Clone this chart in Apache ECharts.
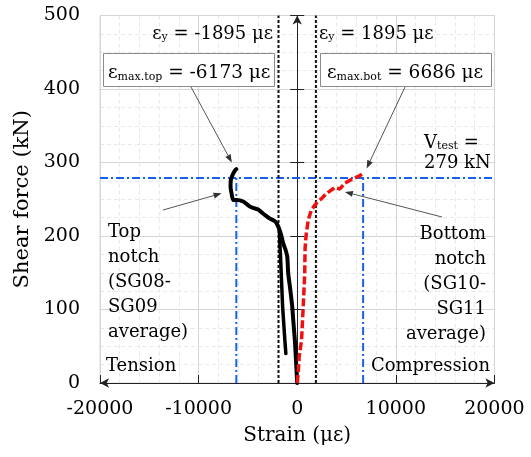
<!DOCTYPE html>
<html><head><meta charset="utf-8">
<script src="https://cdn.jsdelivr.net/npm/echarts@6/dist/echarts.min.js"></script>
<style>html,body{margin:0;padding:0;background:#fff}#c{width:531px;height:457px}</style>
</head><body><div id="c"></div>
<script>
// ---- data (strain in με, shear force in kN) ----
const topNotchStrain = [0, -120, -235, -370, -505, -700, -910, -1010, -1200, -1420, -1600, -1755, -2000, -2260, -2800, -3110, -3500, -3960, -4400, -4800, -5480, -6150, -6490, -6660, -6760, -6730, -6560, -6320, -6173];
const topNotchForce  = [0, 30, 58, 80, 104, 127, 149, 172, 182, 190, 200, 207, 215, 220, 224, 227, 231, 236, 238, 240, 247, 249, 249, 258, 267, 276, 283, 289, 291];
const topBranchStrain = [-1150, -1250, -1480, -1620, -1690, -1760, -1800];
const topBranchForce  = [40, 58, 104, 149, 172, 190, 208];
const botNotchStrain = [0, 100, 200, 440, 610, 760, 800, 900, 1120, 1460, 1970, 2480, 2980, 3830, 4330, 4840, 5520, 6190, 6686];
const botNotchForce  = [0, 13, 36, 58, 104, 149, 183, 201, 222, 236, 245, 251, 258, 266, 264, 272, 277, 281, 285];
const yieldStrain = 1895;
const maxTopStrain = -6173;
const maxBotStrain = 6686;
const vTest = 279;
const xTicks = [-20000, -10000, 0, 10000, 20000];
const yTicks = [0, 100, 200, 300, 400, 500];

const zip = (a, b) => a.map((v, i) => [v, b[i]]);
const F = 'DejaVu Serif';
const xMin = xTicks[0], xMax = xTicks[xTicks.length - 1];
const yMin = yTicks[0], yMax = yTicks[yTicks.length - 1];
const BLUE = '#1b5ee8';

const chart = echarts.init(document.getElementById('c'), null, {renderer: 'canvas'});
const yBase = {
  type: 'value', min: yMin, max: yMax, interval: 100
};
const option = {
  animation: false,
  backgroundColor: '#fff',
  grid: {left: 100, right: 36.6, top: 15.5, bottom: 74, show: true, borderColor: '#d6d6d6', borderWidth: 1},
  xAxis: {
    type: 'value', min: xMin, max: xMax, interval: 10000,
    axisLine: {show: true, onZero: false, symbol: ['arrow', 'arrow'], symbolSize: [7, 9], lineStyle: {color: '#222', width: 1}},
    axisTick: {show: true, inside: true, length: 8, lineStyle: {color: '#222'}},
    axisLabel: {fontFamily: F, fontSize: 19, color: '#000', margin: 17, formatter: (v) => String(v)},
    splitLine: {show: true, lineStyle: {color: '#d6d6d6', width: 1}},
    minorTick: {show: false, splitNumber: 5},
    minorSplitLine: {show: true, lineStyle: {color: '#e9e9e9', type: [4, 3], width: 1}},
    name: 'Strain (με)', nameLocation: 'middle', nameGap: 43,
    nameTextStyle: {fontFamily: F, fontSize: 20, color: '#000'}
  },
  yAxis: [
    Object.assign({}, yBase, {
      position: 'left',
      axisLine: {show: false, onZero: false},
      axisTick: {show: false},
      axisLabel: {fontFamily: F, fontSize: 19, color: '#000', margin: 20},
      splitLine: {show: true, lineStyle: {color: '#d6d6d6', width: 1}},
      minorTick: {show: false, splitNumber: 4},
      minorSplitLine: {show: true, lineStyle: {color: '#e9e9e9', type: [4, 3], width: 1}},
      name: 'Shear force (kN)', nameLocation: 'middle', nameGap: 63, nameRotate: 90,
      nameTextStyle: {fontFamily: F, fontSize: 21, color: '#000'}
    }),
    Object.assign({}, yBase, {
      position: 'left',
      axisLine: {show: true, onZero: true, onZeroAxisIndex: 0, symbol: ['none', 'arrow'], symbolSize: [7, 9], lineStyle: {color: '#222', width: 1}},
      axisTick: {show: true, inside: false, length: 7, lineStyle: {color: '#222'}},
      axisLabel: {show: false}, splitLine: {show: false}
    }),
    Object.assign({}, yBase, {
      position: 'right',
      axisLine: {show: true, onZero: true, onZeroAxisIndex: 0, lineStyle: {color: '#222', width: 1}},
      axisTick: {show: true, inside: false, length: 7, lineStyle: {color: '#222'}},
      axisLabel: {show: false}, splitLine: {show: false}
    })
  ],
  series: [
    {type: 'line', name: 'vtest', data: [[xMin, vTest], [xMax, vTest]], symbol: 'none', silent: true,
     lineStyle: {color: BLUE, width: 2, type: [8, 3, 2, 3]}, z: 3},
    {type: 'line', name: 'vtop', data: [[maxTopStrain, 0], [maxTopStrain, vTest]], symbol: 'none',
     lineStyle: {color: BLUE, width: 2, type: [8, 3, 2, 3]}, z: 3},
    {type: 'line', name: 'vbot', data: [[maxBotStrain, 0], [maxBotStrain, vTest]], symbol: 'none',
     lineStyle: {color: BLUE, width: 2, type: [8, 3, 2, 3]}, z: 3},
    {type: 'line', name: 'yieldNeg', data: [[-yieldStrain, yMin], [-yieldStrain, yMax]], symbol: 'none',
     lineStyle: {color: '#111', width: 2, type: [3, 2]}, z: 3},
    {type: 'line', name: 'yieldPos', data: [[yieldStrain, yMin], [yieldStrain, yMax]], symbol: 'none',
     lineStyle: {color: '#111', width: 2, type: [3, 2]}, z: 3},
    {type: 'line', name: 'Top notch', data: zip(topNotchStrain, topNotchForce), symbol: 'none', smooth: 0.2,
     lineStyle: {color: '#000', width: 4, cap: 'round', join: 'round'}, z: 5},
    {type: 'line', name: 'Top notch branch', data: zip(topBranchStrain, topBranchForce), symbol: 'none',
     lineStyle: {color: '#000', width: 3.5, cap: 'round', join: 'round'}, z: 5},
    {type: 'line', name: 'Bottom notch', data: zip(botNotchStrain, botNotchForce), symbol: 'none',
     lineStyle: {color: '#f01010', width: 3.5, type: [8, 3]}, z: 6}
  ]
};
chart.setOption(option);

function px(x, y) { return chart.convertToPixel({gridIndex: 0}, [x, y]); }
function arrow(p0, p1) {
  const dx = p1[0] - p0[0], dy = p1[1] - p0[1], L = Math.hypot(dx, dy), ux = dx / L, uy = dy / L;
  const hl = 8, hw = 3;
  const b = [p1[0] - ux * hl, p1[1] - uy * hl];
  return [
    {type: 'line', shape: {x1: p0[0], y1: p0[1], x2: b[0], y2: b[1]}, style: {stroke: '#555', lineWidth: 1}, z: 20},
    {type: 'polygon', shape: {points: [p1, [b[0] - uy * hw, b[1] + ux * hw], [b[0] + uy * hw, b[1] - ux * hw]]}, style: {fill: '#333'}, z: 20}
  ];
}
const rich = (sz) => ({
  m: {fontFamily: F, fontSize: sz, fill: '#000', lineHeight: sz + 6, verticalAlign: 'bottom'},
  s: {fontFamily: F, fontSize: Math.round(sz * 0.6), fill: '#000', lineHeight: sz + 2, verticalAlign: 'bottom'}
});
const txt = (x, y, text, opts) => Object.assign({
  type: 'text', x: x, y: y, z: 30,
  style: Object.assign({text: text, fontFamily: F, fontSize: 18, fill: '#000'}, opts || {})
});

const g = [];
// yield strain labels
g.push(txt(273, 31, '{m|ε}{s|y}{m| = -' + yieldStrain + ' με}', {align: 'right', verticalAlign: 'middle', rich: rich(18)}));
g.push(txt(319, 31, '{m|ε}{s|y}{m| = ' + yieldStrain + ' με}', {align: 'left', verticalAlign: 'middle', rich: rich(18)}));
// boxes
g.push({type: 'rect', shape: {x: 103.5, y: 53.5, width: 171, height: 33}, style: {fill: '#fff', stroke: '#8a8a8a', lineWidth: 1}, z: 25});
g.push({type: 'rect', shape: {x: 320.5, y: 53.5, width: 171, height: 33}, style: {fill: '#fff', stroke: '#8a8a8a', lineWidth: 1}, z: 25});
g.push(txt(108, 70, '{m|ε}{s|max.top}{m| = ' + maxTopStrain + ' με}', {align: 'left', verticalAlign: 'middle', rich: rich(18.5)}));
g.push(txt(327, 70, '{m|ε}{s|max.bot}{m| = ' + maxBotStrain + ' με}', {align: 'left', verticalAlign: 'middle', rich: rich(18.5)}));
// Vtest
g.push(txt(424, 140, '{m|V}{s|test}{m| =}', {align: 'left', verticalAlign: 'middle', rich: rich(18)}));
g.push(txt(424, 163, vTest + ' kN', {align: 'left', verticalAlign: 'middle', fontSize: 18}));
// notch descriptions
g.push(txt(108, 220, 'Top\nnotch\n(SG08-\nSG09\naverage)', {align: 'left', verticalAlign: 'top', lineHeight: 25}));
g.push(txt(486, 222, 'Bottom\nnotch\n(SG10-\nSG11\naverage)', {align: 'right', verticalAlign: 'top', lineHeight: 25}));
g.push(txt(106, 366, 'Tension', {align: 'left', verticalAlign: 'middle'}));
g.push(txt(490, 366, 'Compression', {align: 'right', verticalAlign: 'middle'}));
// arrows
g.push(...arrow([191, 87], px(-6630, 300)));
g.push(...arrow([405, 87], px(7040, 292)));
g.push(...arrow([163, 210], px(-7670, 258)));
g.push(...arrow([442, 217], px(4840, 260)));
chart.setOption({graphic: g});
</script>
</body></html>
